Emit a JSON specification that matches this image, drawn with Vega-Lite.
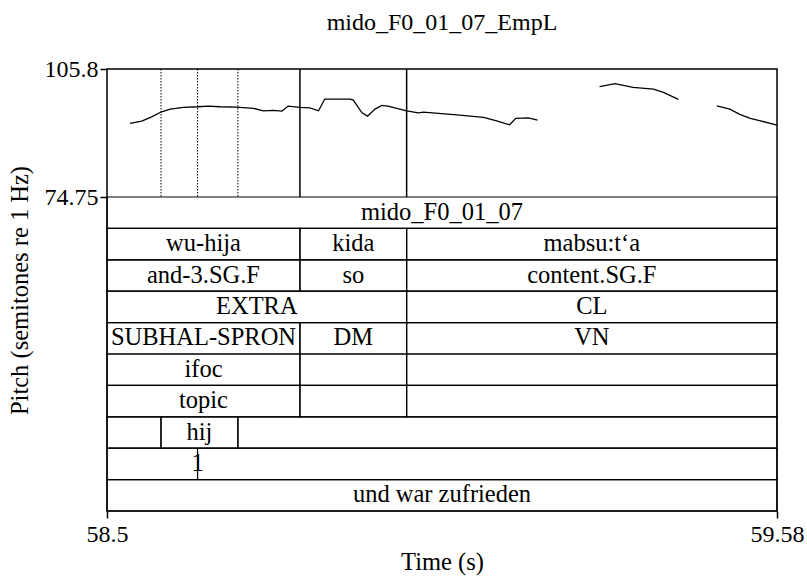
{
  "$schema": "https://vega.github.io/schema/vega-lite/v6.json",
  "width": 670,
  "height": 442,
  "autosize": "none",
  "padding": {"left": 107, "top": 69, "right": 30, "bottom": 65},
  "background": "white",
  "title": {"text": "mido_F0_01_07_EmpL", "font": "Liberation Serif", "fontSize": 24, "fontWeight": "normal", "color": "black", "anchor": "middle", "baseline": "alphabetic", "offset": 3},
  "config": {
    "font": "Liberation Serif",
    "view": {"stroke": "black", "strokeWidth": 1.5},
    "axis": {"labelFont": "Liberation Serif", "titleFont": "Liberation Serif", "labelFontSize": 24, "titleFontSize": 24.5, "titleFontWeight": "normal", "labelColor": "black", "titleColor": "black", "tickColor": "black", "tickSize": 7, "tickWidth": 1.5, "domain": false, "grid": false, "labelFlush": false, "labelOverlap": false}
  },
  "datasets": {
    "pitch": [
      {"seg": 1, "t": 58.537, "f0": 92.60},
      {"seg": 1, "t": 58.556, "f0": 93.16},
      {"seg": 1, "t": 58.572, "f0": 94.20},
      {"seg": 1, "t": 58.588, "f0": 95.42},
      {"seg": 1, "t": 58.602, "f0": 96.08},
      {"seg": 1, "t": 58.623, "f0": 96.49},
      {"seg": 1, "t": 58.647, "f0": 96.64},
      {"seg": 1, "t": 58.663, "f0": 96.81},
      {"seg": 1, "t": 58.682, "f0": 96.64},
      {"seg": 1, "t": 58.709, "f0": 96.56},
      {"seg": 1, "t": 58.736, "f0": 96.25},
      {"seg": 1, "t": 58.752, "f0": 95.66},
      {"seg": 1, "t": 58.768, "f0": 95.76},
      {"seg": 1, "t": 58.782, "f0": 95.59},
      {"seg": 1, "t": 58.792, "f0": 96.81},
      {"seg": 1, "t": 58.811, "f0": 96.49},
      {"seg": 1, "t": 58.827, "f0": 96.39},
      {"seg": 1, "t": 58.841, "f0": 95.66},
      {"seg": 1, "t": 58.851, "f0": 98.51},
      {"seg": 1, "t": 58.892, "f0": 98.51},
      {"seg": 1, "t": 58.897, "f0": 98.26},
      {"seg": 1, "t": 58.911, "f0": 95.18},
      {"seg": 1, "t": 58.920, "f0": 94.37},
      {"seg": 1, "t": 58.932, "f0": 96.08},
      {"seg": 1, "t": 58.943, "f0": 96.98},
      {"seg": 1, "t": 58.953, "f0": 96.81},
      {"seg": 1, "t": 58.983, "f0": 95.66},
      {"seg": 1, "t": 59.002, "f0": 95.18},
      {"seg": 1, "t": 59.010, "f0": 95.35},
      {"seg": 1, "t": 59.064, "f0": 94.69},
      {"seg": 1, "t": 59.107, "f0": 94.06},
      {"seg": 1, "t": 59.128, "f0": 93.23},
      {"seg": 1, "t": 59.149, "f0": 92.26},
      {"seg": 1, "t": 59.159, "f0": 93.82},
      {"seg": 1, "t": 59.179, "f0": 93.96},
      {"seg": 1, "t": 59.194, "f0": 93.40},
      {"seg": 2, "t": 59.294, "f0": 101.50},
      {"seg": 2, "t": 59.319, "f0": 102.23},
      {"seg": 2, "t": 59.348, "f0": 101.35},
      {"seg": 2, "t": 59.381, "f0": 100.94},
      {"seg": 2, "t": 59.397, "f0": 100.14},
      {"seg": 2, "t": 59.421, "f0": 98.43},
      {"seg": 3, "t": 59.483, "f0": 96.88},
      {"seg": 3, "t": 59.504, "f0": 96.08},
      {"seg": 3, "t": 59.520, "f0": 94.79},
      {"seg": 3, "t": 59.537, "f0": 93.82},
      {"seg": 3, "t": 59.555, "f0": 93.16},
      {"seg": 3, "t": 59.580, "f0": 92.19}
    ],
    "bounds": [
      {"t": 58.587, "kind": "single"},
      {"t": 58.646, "kind": "single"},
      {"t": 58.711, "kind": "single"},
      {"t": 58.811, "kind": "many"},
      {"t": 58.983, "kind": "many"}
    ],
    "intervals": [
      {"tier": 1, "start": 58.5, "end": 59.58, "label": "mido_F0_01_07"},
      {"tier": 2, "start": 58.5, "end": 58.811, "label": "wu-hija"},
      {"tier": 2, "start": 58.811, "end": 58.983, "label": "kida"},
      {"tier": 2, "start": 58.983, "end": 59.58, "label": "mabsu:t‘a"},
      {"tier": 3, "start": 58.5, "end": 58.811, "label": "and-3.SG.F"},
      {"tier": 3, "start": 58.811, "end": 58.983, "label": "so"},
      {"tier": 3, "start": 58.983, "end": 59.58, "label": "content.SG.F"},
      {"tier": 4, "start": 58.5, "end": 58.983, "label": "EXTRA"},
      {"tier": 4, "start": 58.983, "end": 59.58, "label": "CL"},
      {"tier": 5, "start": 58.5, "end": 58.811, "label": "SUBHAL-SPRON"},
      {"tier": 5, "start": 58.811, "end": 58.983, "label": "DM"},
      {"tier": 5, "start": 58.983, "end": 59.58, "label": "VN"},
      {"tier": 6, "start": 58.5, "end": 58.811, "label": "ifoc"},
      {"tier": 6, "start": 58.811, "end": 58.983, "label": ""},
      {"tier": 6, "start": 58.983, "end": 59.58, "label": ""},
      {"tier": 7, "start": 58.5, "end": 58.811, "label": "topic"},
      {"tier": 7, "start": 58.811, "end": 58.983, "label": ""},
      {"tier": 7, "start": 58.983, "end": 59.58, "label": ""},
      {"tier": 8, "start": 58.5, "end": 58.587, "label": ""},
      {"tier": 8, "start": 58.587, "end": 58.711, "label": "hij"},
      {"tier": 8, "start": 58.711, "end": 59.58, "label": ""},
      {"tier": 9, "start": 58.5, "end": 59.58, "label": ""},
      {"tier": 10, "start": 58.5, "end": 59.58, "label": "und war zufrieden"}
    ],
    "points": [
      {"tier": 9, "t": 58.646, "label": "1"}
    ]
  },
  "layer": [
    {
      "layer": [
        {
          "data": {"name": "pitch"},
          "mark": {"type": "line", "color": "black", "strokeWidth": 1.3},
          "encoding": {
            "x": {"field": "t", "type": "quantitative", "title": "Time (s)", "scale": {"domain": [58.5, 59.58], "nice": false, "zero": false}, "axis": {"values": [58.5, 59.58], "labelExpr": "toString(datum.value)", "labelPadding": 4}},
            "y": {"field": "f0", "type": "quantitative", "title": "Pitch (semitones re 1 Hz)", "scale": {"domain": [74.75, 105.8], "range": [128, 0], "nice": false, "zero": false}, "axis": {"values": [74.75, 105.8], "labelExpr": "toString(datum.value)", "labelPadding": 2, "titleX": -80, "titleY": 221, "titleAngle": -90, "titleAlign": "center", "titleBaseline": "alphabetic"}},
            "detail": {"field": "seg", "type": "nominal"}
          }
        },
        {
          "data": {"name": "bounds"},
          "transform": [{"filter": "datum.kind == 'single'"}],
          "mark": {"type": "rule", "color": "black", "strokeWidth": 1, "strokeDash": [1.5, 1.5]},
          "encoding": {
            "x": {"field": "t", "type": "quantitative", "title": "Time (s)", "scale": {"domain": [58.5, 59.58], "nice": false, "zero": false}, "axis": {"values": [58.5, 59.58], "labelExpr": "toString(datum.value)", "labelPadding": 4}},
            "y": {"datum": 105.8, "type": "quantitative", "title": "Pitch (semitones re 1 Hz)", "scale": {"domain": [74.75, 105.8], "range": [128, 0], "nice": false, "zero": false}, "axis": {"values": [74.75, 105.8], "labelExpr": "toString(datum.value)", "labelPadding": 2, "titleX": -80, "titleY": 221, "titleAngle": -90, "titleAlign": "center", "titleBaseline": "alphabetic"}},
            "y2": {"datum": 74.75}
          }
        },
        {
          "data": {"name": "bounds"},
          "transform": [{"filter": "datum.kind == 'many'"}],
          "mark": {"type": "rule", "color": "black", "strokeWidth": 1.5},
          "encoding": {
            "x": {"field": "t", "type": "quantitative", "title": "Time (s)", "scale": {"domain": [58.5, 59.58], "nice": false, "zero": false}, "axis": {"values": [58.5, 59.58], "labelExpr": "toString(datum.value)", "labelPadding": 4}},
            "y": {"datum": 105.8, "type": "quantitative", "title": "Pitch (semitones re 1 Hz)", "scale": {"domain": [74.75, 105.8], "range": [128, 0], "nice": false, "zero": false}, "axis": {"values": [74.75, 105.8], "labelExpr": "toString(datum.value)", "labelPadding": 2, "titleX": -80, "titleY": 221, "titleAngle": -90, "titleAlign": "center", "titleBaseline": "alphabetic"}},
            "y2": {"datum": 74.75}
          }
        }
      ]
    },
    {
      "layer": [
        {
          "data": {"name": "intervals"},
          "mark": {"type": "rect", "fill": "white", "fillOpacity": 0, "stroke": "black", "strokeWidth": 1.2},
          "encoding": {
            "x": {"field": "start", "type": "quantitative", "title": "Time (s)", "scale": {"domain": [58.5, 59.58], "nice": false, "zero": false}, "axis": {"values": [58.5, 59.58], "labelExpr": "toString(datum.value)", "labelPadding": 4}},
            "x2": {"field": "end"},
            "y": {"field": "tier", "type": "ordinal", "scale": {"type": "band", "domain": [1, 2, 3, 4, 5, 6, 7, 8, 9, 10], "range": [128, 442], "paddingInner": 0, "paddingOuter": 0}, "axis": null}
          }
        },
        {
          "data": {"name": "points"},
          "mark": {"type": "rect", "fill": "white", "fillOpacity": 0, "stroke": "black", "strokeWidth": 1.2},
          "encoding": {
            "x": {"field": "t", "type": "quantitative", "title": "Time (s)", "scale": {"domain": [58.5, 59.58], "nice": false, "zero": false}, "axis": {"values": [58.5, 59.58], "labelExpr": "toString(datum.value)", "labelPadding": 4}},
            "x2": {"field": "t"},
            "y": {"field": "tier", "type": "ordinal", "scale": {"type": "band", "domain": [1, 2, 3, 4, 5, 6, 7, 8, 9, 10], "range": [128, 442], "paddingInner": 0, "paddingOuter": 0}, "axis": null}
          }
        },
        {
          "data": {"name": "intervals"},
          "transform": [{"calculate": "(datum.start + datum.end) / 2", "as": "mid"}],
          "mark": {"type": "text", "font": "Liberation Serif", "fontSize": 24.5, "color": "black", "baseline": "middle", "align": "center"},
          "encoding": {
            "x": {"field": "mid", "type": "quantitative", "title": "Time (s)", "scale": {"domain": [58.5, 59.58], "nice": false, "zero": false}, "axis": {"values": [58.5, 59.58], "labelExpr": "toString(datum.value)", "labelPadding": 4}},
            "y": {"field": "tier", "type": "ordinal", "scale": {"type": "band", "domain": [1, 2, 3, 4, 5, 6, 7, 8, 9, 10], "range": [128, 442], "paddingInner": 0, "paddingOuter": 0}, "axis": null},
            "text": {"field": "label"}
          }
        },
        {
          "data": {"name": "points"},
          "mark": {"type": "text", "font": "Liberation Serif", "fontSize": 24.5, "color": "black", "baseline": "middle", "align": "center"},
          "encoding": {
            "x": {"field": "t", "type": "quantitative", "title": "Time (s)", "scale": {"domain": [58.5, 59.58], "nice": false, "zero": false}, "axis": {"values": [58.5, 59.58], "labelExpr": "toString(datum.value)", "labelPadding": 4}},
            "y": {"field": "tier", "type": "ordinal", "scale": {"type": "band", "domain": [1, 2, 3, 4, 5, 6, 7, 8, 9, 10], "range": [128, 442], "paddingInner": 0, "paddingOuter": 0}, "axis": null},
            "text": {"field": "label"}
          }
        }
      ]
    }
  ],
  "resolve": {"scale": {"y": "independent"}, "axis": {"y": "independent"}}
}
